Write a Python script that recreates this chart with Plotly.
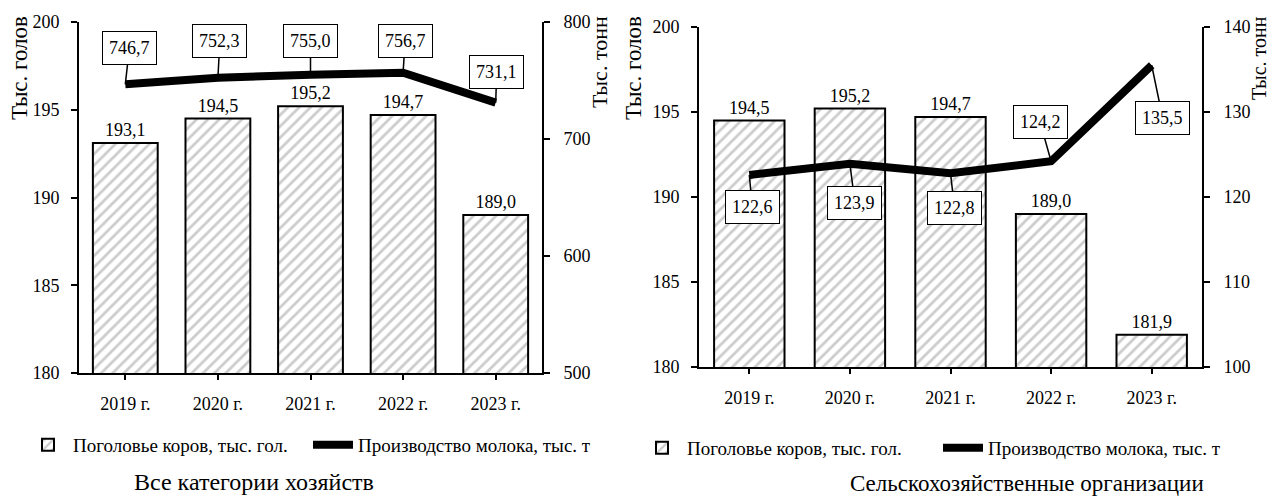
import plotly.graph_objects as go

# Годы наблюдения
years = ["2019 г.", "2020 г.", "2021 г.", "2022 г.", "2023 г."]

# Все категории хозяйств
cows_all = [193.1, 194.5, 195.2, 194.7, 189.0]      # поголовье коров, тыс. гол.
milk_all = [746.7, 752.3, 755.0, 756.7, 731.1]      # производство молока, тыс. т

# Сельскохозяйственные организации
cows_org = [194.5, 195.2, 194.7, 189.0, 181.9]
milk_org = [122.6, 123.9, 122.8, 124.2, 135.5]

bar_name = "Поголовье коров, тыс. гол."
line_name = "Производство молока, тыс. т"

FONT = "Liberation Serif"
W, H = 1273, 497


def px_x(p):
    return p / W


def px_y(p):
    return 1 - p / H


def bar_trace(vals, xa, ya, legend):
    return go.Bar(
        x=years, y=vals, xaxis=xa, yaxis=ya, name=bar_name, legend=legend,
        marker=dict(color="white",
                    line=dict(color="black", width=2),
                    pattern=dict(shape="/", fgcolor="#9a9a9a", bgcolor="white",
                                 size=8, solidity=0.35)),
        texttemplate="%{y:.1f}", textposition="outside",
        textfont=dict(family=FONT, size=18, color="black"),
        cliponaxis=False,
    )


def line_trace(vals, xa, ya, legend):
    return go.Scatter(
        x=years, y=vals, xaxis=xa, yaxis=ya, name=line_name, legend=legend,
        mode="lines", line=dict(color="black", width=8),
    )


fig = go.Figure()
fig.add_trace(bar_trace(cows_all, "x", "y", "legend"))
fig.add_trace(line_trace(milk_all, "x", "y2", "legend"))
fig.add_trace(bar_trace(cows_org, "x2", "y3", "legend2"))
fig.add_trace(line_trace(milk_org, "x2", "y4", "legend2"))

tickfont = dict(family=FONT, size=18, color="black")
axis_common = dict(showline=True, linecolor="black", linewidth=2, showgrid=False,
                   zeroline=False, ticks="outside", tickcolor="black", tickwidth=2,
                   tickfont=tickfont, fixedrange=True, automargin=False)

left_dom = [px_x(79), px_x(542)]
right_dom = [px_x(699), px_x(1202)]
left_ydom = [px_y(373), px_y(22)]
right_ydom = [px_y(367), px_y(27)]

legend_font = dict(family=FONT, size=19, color="black")

fig.update_layout(
    width=W, height=H, margin=dict(l=0, r=0, t=0, b=0, autoexpand=False),
    paper_bgcolor="white", plot_bgcolor="white",
    separators=", ", bargap=0.3,
    font=dict(family=FONT, color="black"),
    xaxis=dict(domain=left_dom, anchor="y", ticklen=5, ticklabelstandoff=8, **axis_common),
    yaxis=dict(domain=left_ydom, anchor="x", range=[180, 200], dtick=5,
               ticklen=6, ticklabelstandoff=8, **axis_common),
    yaxis2=dict(overlaying="y", anchor="x", side="right", range=[500, 800],
                dtick=100, ticklen=6, ticklabelstandoff=10, **axis_common),
    xaxis2=dict(domain=right_dom, anchor="y3", ticklen=5, ticklabelstandoff=8, **axis_common),
    yaxis3=dict(domain=right_ydom, anchor="x2", range=[180, 200], dtick=5,
                ticklen=6, ticklabelstandoff=8, **axis_common),
    yaxis4=dict(overlaying="y3", anchor="x2", side="right", range=[100, 140],
                dtick=10, ticklen=6, ticklabelstandoff=10, **axis_common),
    legend=dict(orientation="h", x=px_x(23), y=px_y(445), xanchor="left",
                yanchor="middle", font=legend_font, bgcolor="rgba(0,0,0,0)",
                itemwidth=40, entrywidth=230, tracegroupgap=0),
    legend2=dict(orientation="h", x=px_x(637), y=px_y(448), xanchor="left",
                 yanchor="middle", font=legend_font, bgcolor="rgba(0,0,0,0)",
                 itemwidth=40, entrywidth=246, tracegroupgap=0),
)

# Подписи значений производства молока в рамках с выносками
label_offsets_all = [(4, -36), (2, -37), (0, -34), (2, -32), (1, -31)]
label_offsets_org = [(3, 32), (5, 39), (4, 35), (-11, -39), (11, 53)]


def value_labels(vals, offsets, xref, yref):
    for yr, v, (dx, dy) in zip(years, vals, offsets):
        fig.add_annotation(
            x=yr, y=v, xref=xref, yref=yref,
            text=f"{v:.1f}".replace(".", ","),
            showarrow=True, arrowhead=0, arrowwidth=1.5, arrowcolor="black",
            ax=dx, ay=dy, standoff=0,
            bordercolor="black", borderwidth=1, borderpad=6, bgcolor="white",
            font=dict(family=FONT, size=18, color="black"),
        )


value_labels(milk_all, label_offsets_all, "x", "y2")
value_labels(milk_org, label_offsets_org, "x2", "y4")

# Подписи осей
axis_titles = [("Тыс. голов", 20, 23), ("Тыс. тонн", 600, 22),
               ("Тыс. голов", 634, 23), ("Тыс. тонн", 1259, 20)]
for text, xp, size in axis_titles:
    fig.add_annotation(text=text, xref="paper", yref="paper", x=px_x(xp),
                       y=px_y(14), xanchor="center", yanchor="top", textangle=-90,
                       showarrow=False, font=dict(family=FONT, size=size, color="black"))

# Заголовки панелей
fig.add_annotation(text="Все категории хозяйств", xref="paper", yref="paper",
                   x=px_x(254), y=px_y(482), xanchor="center", yanchor="middle",
                   showarrow=False, font=dict(family=FONT, size=24, color="black"))
fig.add_annotation(text="Сельскохозяйственные организации", xref="paper", yref="paper",
                   x=px_x(1027), y=px_y(483), xanchor="center", yanchor="middle",
                   showarrow=False, font=dict(family=FONT, size=23, color="black"))

fig.write_html("out.html")
